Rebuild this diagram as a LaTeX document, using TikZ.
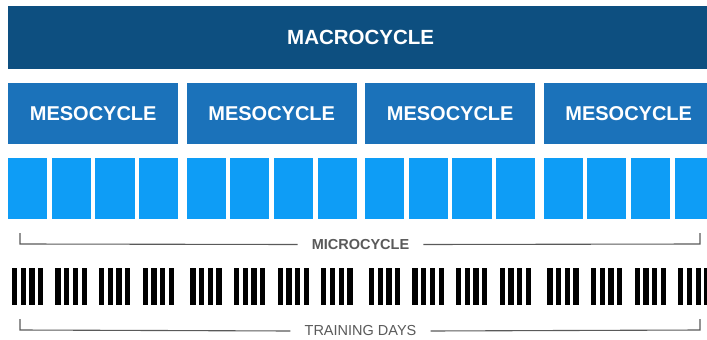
\documentclass[tikz,border=0pt]{standalone}
\usepackage{fontspec}
\setmainfont{Liberation Sans}
\definecolor{macroblue}{HTML}{0D4F80}
\definecolor{mesoblue}{HTML}{1B72BA}
\definecolor{microblue}{HTML}{0E9DF6}
\definecolor{linegrey}{HTML}{5A5A5A}
\begin{document}
\begin{tikzpicture}[x=1pt,y=-1pt,
  macrobox/.style={fill=macroblue, draw=none, text=white, inner sep=0pt, anchor=north west,
    font=\bfseries\fontsize{20.5}{24}\selectfont},
  mesobox/.style={fill=mesoblue, draw=none, text=white, inner sep=0pt, anchor=north west,
    minimum width=170pt, minimum height=61pt, font=\bfseries\fontsize{20}{23}\selectfont},
  microbox/.style={fill=microblue, draw=none, inner sep=0pt, anchor=north west,
    minimum width=39.1pt, minimum height=61pt},
  daybar/.style={fill=black, draw=none},
  bracketline/.style={draw=linegrey, line width=1.1pt},
  bracketlabel/.style={text=linegrey, inner xsep=14pt, inner ysep=0pt}
]
\useasboundingbox (0,0) rectangle (707,340);
\clip (0,0) rectangle (707,340);
\fill[white] (0,0) rectangle (707,340);
% macrocycle
\node[macrobox, minimum width=705pt, minimum height=63pt] (macro) at (8,6) {MACROCYCLE};
% mesocycles, microcycles and training days
\foreach \m in {0,1,2,3}{
  \node[mesobox] (meso\m) at ({8+\m*178.5},83) {MESOCYCLE};
  \foreach \k in {0,1,2,3}{
    \node[microbox] (micro\m\k) at ({8+\m*178.5+\k*43.6},158) {};
    \foreach \j in {0,1,2,3}{
      \fill[daybar] ({8+\m*178.5+\k*43.6+19.55-15.7+\j*8.7},268) rectangle ++(5.3,37);
    }
  }
}
% microcycle bracket
\coordinate (mcTL) at (20,233);
\coordinate (mcBL) at (20,244);
\coordinate (mcTR) at (700,233);
\coordinate (mcBR) at (700,244);
\node[bracketlabel, font=\bfseries\fontsize{14.5}{17}\selectfont] (mclabel) at (360.5,244.5) {MICROCYCLE};
\draw[bracketline] (mcTL) -- (mcBL) -- (mclabel.west);
\draw[bracketline] (mclabel.east) -- (mcBR) -- (mcTR);
% training days bracket
\coordinate (tdTL) at (20,319);
\coordinate (tdBL) at (20,330);
\coordinate (tdTR) at (700,319);
\coordinate (tdBR) at (700,330);
\node[bracketlabel, font=\fontsize{14.5}{17}\selectfont] (tdlabel) at (360.5,331) {TRAINING DAYS};
\draw[bracketline] (tdTL) -- (tdBL) -- (tdlabel.west);
\draw[bracketline] (tdlabel.east) -- (tdBR) -- (tdTR);
\end{tikzpicture}
\end{document}
